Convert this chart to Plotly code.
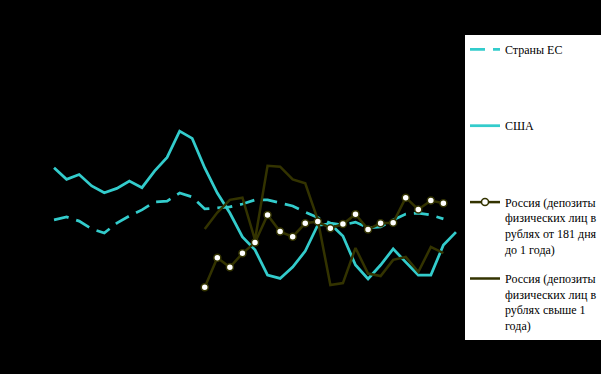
import plotly.graph_objects as go

periods = list(range(33))

eu = [3.98, 4.10, 3.93, 3.61, 3.44, 3.85, 4.14, 4.39, 4.71, 4.75, 5.08, 4.92,
      4.43, 4.47, 4.51, 4.63, 4.80, 4.80, 4.67, 4.55, 4.30, 4.06, 3.85, 3.77,
      3.89, 3.65, 3.69, 3.98, 4.22, 4.26, 4.18, 4.02, None]

usa = [6.12, 5.64, 5.84, 5.37, 5.09, 5.27, 5.57, 5.30, 5.98, 6.54, 7.62, 7.32,
       6.11, 5.08, 4.26, 3.28, 2.75, 1.72, 1.58, 2.05, 2.70, 3.77, 3.81, 3.32,
       2.13, 1.56, 2.13, 2.79, 2.25, 1.72, 1.72, 2.95, 3.48]

ru_181 = [None] * 12 + [1.22, 2.43, 2.04, 2.61, 3.05, 4.18, 3.50, 3.29, 3.84, 3.91,
                        3.64, 3.81, 4.21, 3.59, 3.84, 3.86, 4.89, 4.41, 4.77, 4.66, None]

ru_1y = [None] * 12 + [3.61, 4.28, 4.80, 4.89, 3.16, 6.20, 6.16, 5.64, 5.48, 3.98,
                       1.31, 1.39, 2.83, 1.78, 1.68, 2.34, 2.46, 1.84, 2.87, 2.62, None]

names = [
    "Страны ЕС<br> <br> <br> ",
    "США<br> <br> <br> ",
    "Россия (депозиты<br>физических лиц в<br>рублях от 181 дня<br>до 1 года)",
    "Россия (депозиты<br>физических лиц в<br>рублях свыше 1<br>года)",
]

CYAN = "#33CCCC"
OLIVE = "#333300"

fig = go.Figure()
fig.add_trace(go.Scatter(x=periods, y=eu, name=names[0], mode="lines",
                         line=dict(color=CYAN, width=2.75, dash="15px,8px"),
                         legendgroup="g1"))
fig.add_trace(go.Scatter(x=periods, y=usa, name=names[1], mode="lines",
                         line=dict(color=CYAN, width=2.75),
                         legendgroup="g2"))
fig.add_trace(go.Scatter(x=periods, y=ru_181, name=names[2], mode="lines+markers",
                         line=dict(color=OLIVE, width=2.5),
                         marker=dict(symbol="circle", size=7, color="white",
                                     line=dict(color=OLIVE, width=1.5)),
                         legendgroup="g3", zorder=2))
fig.add_trace(go.Scatter(x=periods, y=ru_1y, name=names[3], mode="lines",
                         line=dict(color=OLIVE, width=2.5),
                         legendgroup="g4", zorder=1))

fig.update_layout(
    width=601, height=374,
    paper_bgcolor="black", plot_bgcolor="black",
    margin=dict(l=48, r=139, t=73, b=57, autoexpand=False),
    showlegend=True,
    legend=dict(
        xref="container", yref="container",
        x=465 / 601, y=1 - 35 / 374, xanchor="left", yanchor="top",
        maxheight=360,
        bgcolor="white", borderwidth=0,
        font=dict(family="Liberation Serif", size=12, color="black"),
        valign="top", tracegroupgap=11, traceorder="grouped",
    ),
    font=dict(family="Liberation Serif", size=12, color="black"),
)
fig.update_xaxes(range=[-0.48, 32.48], showgrid=False, zeroline=False,
                 showticklabels=False, ticks="", showline=True, mirror=True,
                 linecolor="#868686", linewidth=1)
fig.update_yaxes(range=[0, 10], showgrid=False, zeroline=False,
                 showticklabels=False, ticks="", side="right",
                 showline=True, linecolor="#868686", linewidth=1)

fig.write_html("out.html")
